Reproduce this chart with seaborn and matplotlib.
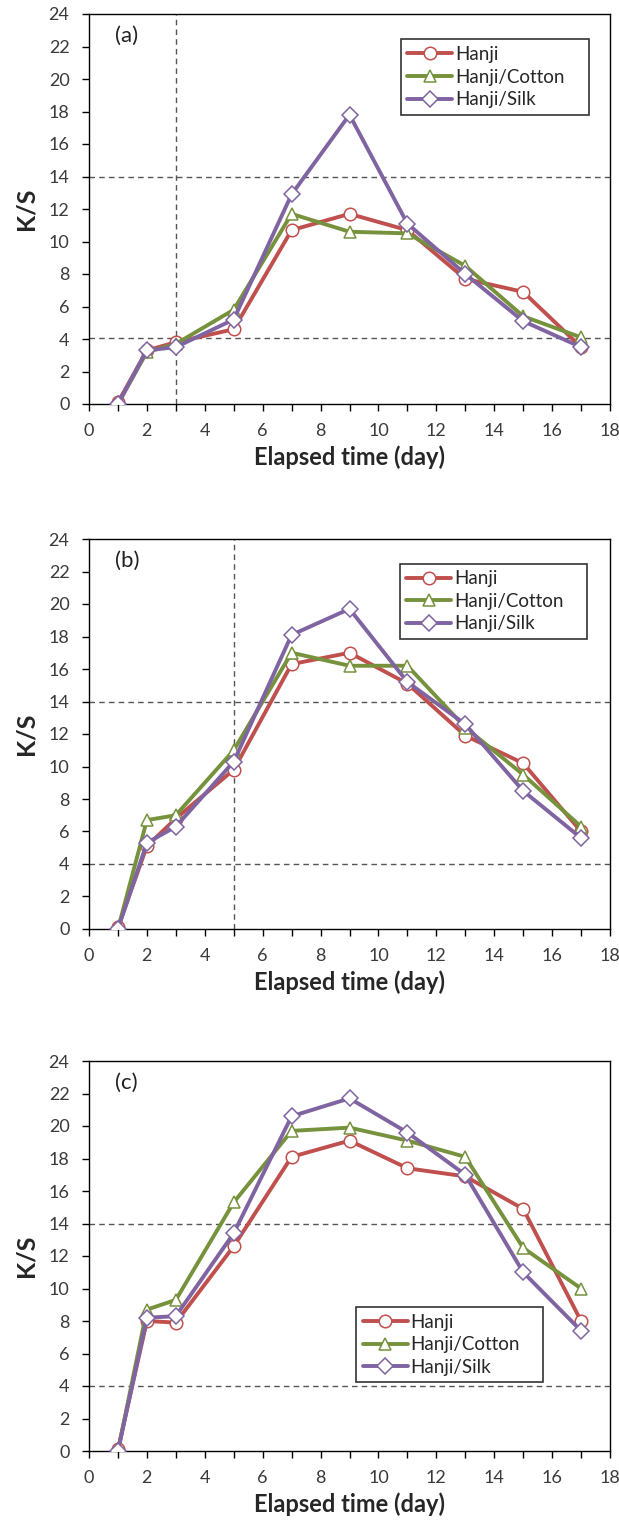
import numpy as np
import pandas as pd
import matplotlib
matplotlib.use('Agg')
import matplotlib.pyplot as plt
import seaborn as sns
from matplotlib.ticker import MultipleLocator

days = [1, 2, 3, 5, 7, 9, 11, 13, 15, 17]
series_names = ['Hanji', 'Hanji/Cotton', 'Hanji/Silk']

# panel (a)
a_hanji = [0.1, 3.3, 3.8, 4.6, 10.7, 11.7, 10.7, 7.7, 6.9, 3.5]
a_cotton = [0.0, 3.2, 3.7, 5.8, 11.7, 10.6, 10.5, 8.5, 5.4, 4.1]
a_silk = [0.0, 3.3, 3.5, 5.2, 12.9, 17.8, 11.1, 8.0, 5.1, 3.5]

# panel (b)
b_hanji = [0.1, 5.1, 6.8, 9.8, 16.3, 17.0, 15.1, 11.9, 10.2, 6.0]
b_cotton = [0.0, 6.7, 7.0, 11.0, 17.0, 16.2, 16.2, 12.4, 9.5, 6.3]
b_silk = [0.0, 5.3, 6.3, 10.3, 18.1, 19.7, 15.2, 12.6, 8.5, 5.6]

# panel (c)
c_hanji = [0.1, 8.0, 7.9, 12.6, 18.1, 19.1, 17.4, 16.9, 14.9, 8.0]
c_cotton = [0.0, 8.7, 9.3, 15.3, 19.7, 19.9, 19.1, 18.1, 12.5, 10.0]
c_silk = [0.0, 8.2, 8.3, 13.4, 20.6, 21.7, 19.6, 17.0, 11.0, 7.4]

panel_labels = ['(a)', '(b)', '(c)']
hlines = [[4.05, 14], [4, 14], [4, 14]]
vlines = [3, 5, None]

colors = {'Hanji': '#C0504D', 'Hanji/Cotton': '#76923C', 'Hanji/Silk': '#8064A2'}
markers = {'Hanji': 'o', 'Hanji/Cotton': '^', 'Hanji/Silk': 'D'}
msizes = {'Hanji': 9, 'Hanji/Cotton': 9, 'Hanji/Silk': 8}

sns.set_style('white')
plt.rcParams['font.family'] = ['Lato', 'DejaVu Sans']

fig = plt.figure(figsize=(6.19, 15.24), dpi=100)
left, width, height = 89 / 619, 521 / 619, 390 / 1524
bottoms = [1 - 404 / 1524, 1 - 929 / 1524, 1 - 1451 / 1524]
# legend boxes in axes fraction: (x0, top, width)
legend_boxes = [(0.598, 0.935, 0.361), (0.596, 0.937, 0.360), (0.5125, 0.369, 0.359)]

panels = [(a_hanji, a_cotton, a_silk), (b_hanji, b_cotton, b_silk), (c_hanji, c_cotton, c_silk)]

for i, (h, c, s) in enumerate(panels):
    ax = fig.add_axes([left, bottoms[i], width, height])
    df = pd.DataFrame({'day': days * 3,
                       'ks': h + c + s,
                       'series': sum([[n] * len(days) for n in series_names], [])})

    for y in hlines[i]:
        ax.axhline(y, color='#555555', lw=1, ls=(0, (4, 3)), zorder=1)
    if vlines[i] is not None:
        ax.axvline(vlines[i], color='#555555', lw=1, ls=(0, (4, 3)), zorder=1)

    for name in series_names:
        sub = df[df['series'] == name]
        sns.lineplot(data=sub, x='day', y='ks', ax=ax, color=colors[name], lw=2.8,
                     marker=markers[name], markersize=msizes[name],
                     markerfacecolor='white', markeredgecolor=colors[name],
                     markeredgewidth=1.1, label=name, zorder=3)

    ax.set_xlim(0, 18)
    ax.set_ylim(0, 24)
    ax.xaxis.set_major_locator(MultipleLocator(2))
    ax.xaxis.set_minor_locator(MultipleLocator(1))
    ax.yaxis.set_major_locator(MultipleLocator(2))
    ax.tick_params(axis='both', which='both', direction='out', length=5, width=1,
                   color='black', labelsize=13, labelcolor='#3a3a3a', pad=9,
                   bottom=True, left=True)
    for sp in ax.spines.values():
        sp.set_color('black')
        sp.set_linewidth(1)

    ax.set_xlabel('Elapsed time (day)', fontsize=17, fontweight='bold', labelpad=4)
    ax.set_ylabel('K/S', fontsize=18, fontweight='bold', labelpad=8)
    ax.text(0.05, 0.97, panel_labels[i], transform=ax.transAxes, fontsize=16,
            va='top', ha='left', color='#222222')

    x0, top, w = legend_boxes[i]
    leg = ax.legend(loc='upper left', bbox_to_anchor=(x0, top - 0.1, w, 0.1),
                    mode='expand', fontsize=13.5,
                    frameon=True, fancybox=False, edgecolor='black',
                    handlelength=2.4, handletextpad=0.15, borderpad=0.35,
                    labelspacing=0.3, borderaxespad=0)
    leg.get_frame().set_linewidth(1.2)

fig.savefig('out.png', dpi=100)
